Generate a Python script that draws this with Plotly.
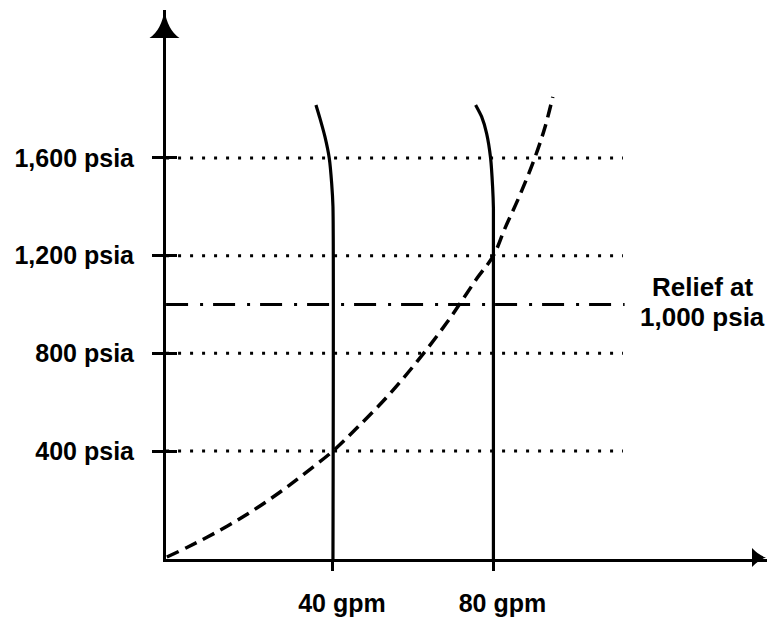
import plotly.graph_objects as go

# ---- data ----
flow_ticks = [40, 80]
flow_tick_labels = ["40 gpm", "80 gpm"]
pressure_ticks = [400, 800, 1200, 1600]
pressure_tick_labels = ["400 psia", "800 psia", "1,200 psia", "1,600 psia"]
relief_pressure = 1000
relief_label_top = "Relief at"
relief_label_bottom = "1,000 psia"

# system (dashed) curve
system_gpm = [-1.4, 3.6, 8.6, 13.6, 18.6, 23.6, 28.5, 33.5, 40.0, 46.0, 53.5, 60.9, 68.4,
              75.9, 80.0, 82.9, 86.6, 90.3, 92.8, 94.8]
system_psia = [-34, 5, 47, 92, 141, 195, 252, 315, 400, 495, 622, 765, 926,
               1107, 1200, 1313, 1448, 1600, 1723, 1850]

# pump curves at 40 and 80 gpm (vertical then bending at high pressure)
pump40_gpm = [40.0, 40.0, 39.68, 39.08, 38.0, 36.76, 35.76]
pump40_psia = [-42, 1400, 1496, 1599, 1687, 1762, 1817]
pump80_gpm = [80.0, 80.0, 79.8, 79.3, 78.3, 77.06, 75.56]
pump80_psia = [-42, 1394, 1482, 1599, 1701, 1769, 1817]

guide_start_gpm = -1.6
guide_end_gpm = 112.3
relief_end_gpm = 112.7
label_gpm = 132

x_range = [-1.62, 148.2]
y_range = [-42.2, 2206]

FONT = "Liberation Sans, Arial, sans-serif"
BLACK = "#000000"

fig = go.Figure()

# dotted pressure guides
gx, gy = [], []
for p in pressure_ticks:
    gx += [guide_start_gpm, guide_end_gpm, None]
    gy += [p, p, None]
fig.add_trace(go.Scatter(x=gx, y=gy, mode="lines",
                         line=dict(color=BLACK, width=3, dash="3px,9px"),
                         hoverinfo="skip", showlegend=False))

# relief line (dash-dot)
fig.add_trace(go.Scatter(x=[guide_start_gpm, relief_end_gpm], y=[relief_pressure, relief_pressure],
                         mode="lines",
                         line=dict(color=BLACK, width=3, dash="22px,12px,3px,10px"),
                         hoverinfo="skip", showlegend=False))

# pump curves
for gxs, gys in [(pump40_gpm, pump40_psia), (pump80_gpm, pump80_psia)]:
    fig.add_trace(go.Scatter(x=gxs, y=gys, mode="lines",
                             line=dict(color=BLACK, width=3.2, shape="spline", smoothing=0.6),
                             hoverinfo="skip", showlegend=False))

# system curve
fig.add_trace(go.Scatter(x=system_gpm, y=system_psia, mode="lines",
                         line=dict(color=BLACK, width=3.5, dash="13px,7px", shape="spline", smoothing=1.0),
                         hoverinfo="skip", showlegend=False))

# invisible trace for overlay axis (inside tick halves)
fig.add_trace(go.Scatter(x=[None], y=[None], yaxis="y2", mode="lines",
                         hoverinfo="skip", showlegend=False))

# relief label
fig.add_annotation(x=label_gpm, y=relief_pressure, text=relief_label_top, showarrow=False,
                   xanchor="center", yanchor="bottom", yshift=1,
                   font=dict(family=FONT, size=26, color=BLACK, weight="bold"))
fig.add_annotation(x=label_gpm, y=relief_pressure, text=relief_label_bottom, showarrow=False,
                   xanchor="center", yanchor="top", yshift=5,
                   font=dict(family=FONT, size=26, color=BLACK, weight="bold"))

# arrowheads
fig.add_shape(type="path", xref="paper", yref="paper", xsizemode="pixel", ysizemode="pixel",
              xanchor=0, yanchor=1,
              path="M-1.5,0 Q-4.5,-20 -16.5,-28 L13.5,-28 Q1.5,-20 -1.5,0 Z",
              fillcolor=BLACK, line=dict(width=0))
fig.add_shape(type="path", xref="paper", yref="paper", xsizemode="pixel", ysizemode="pixel",
              xanchor=1, yanchor=0,
              path="M-1,1.5 Q-8,-0.5 -15,-8 L-15,11 Q-8,3.5 -1,1.5 Z",
              fillcolor=BLACK, line=dict(width=0))

fig.update_layout(
    width=767, height=620,
    margin=dict(l=166, r=0, t=10, b=61, pad=0),
    paper_bgcolor="white", plot_bgcolor="white",
    xaxis=dict(range=x_range, showgrid=False, zeroline=False, showline=True, linecolor=BLACK,
               linewidth=3, ticks="outside", ticklen=9, tickwidth=3, tickcolor=BLACK,
               tickvals=flow_ticks, ticktext=flow_tick_labels, ticklabelstandoff=11,
               ticklabelshift=9,
               tickfont=dict(family=FONT, size=25, color=BLACK, weight="bold")),
    yaxis=dict(range=y_range, showgrid=False, zeroline=False, showline=True, linecolor=BLACK,
               linewidth=3, ticks="outside", ticklen=11, tickwidth=3, tickcolor=BLACK,
               tickvals=pressure_ticks, ticktext=pressure_tick_labels, ticklabelstandoff=13,
               tickfont=dict(family=FONT, size=25, color=BLACK, weight="bold")),
    yaxis2=dict(range=y_range, overlaying="y", side="left", anchor="x", showgrid=False,
                zeroline=False, showline=False, ticks="inside", ticklen=11, tickwidth=3,
                tickcolor=BLACK, tickvals=pressure_ticks, showticklabels=False),
    showlegend=False,
)

fig.write_html("out.html", config={"displayModeBar": False},
               post_script="document.body.style.margin='0px';document.body.style.overflow='hidden';")
